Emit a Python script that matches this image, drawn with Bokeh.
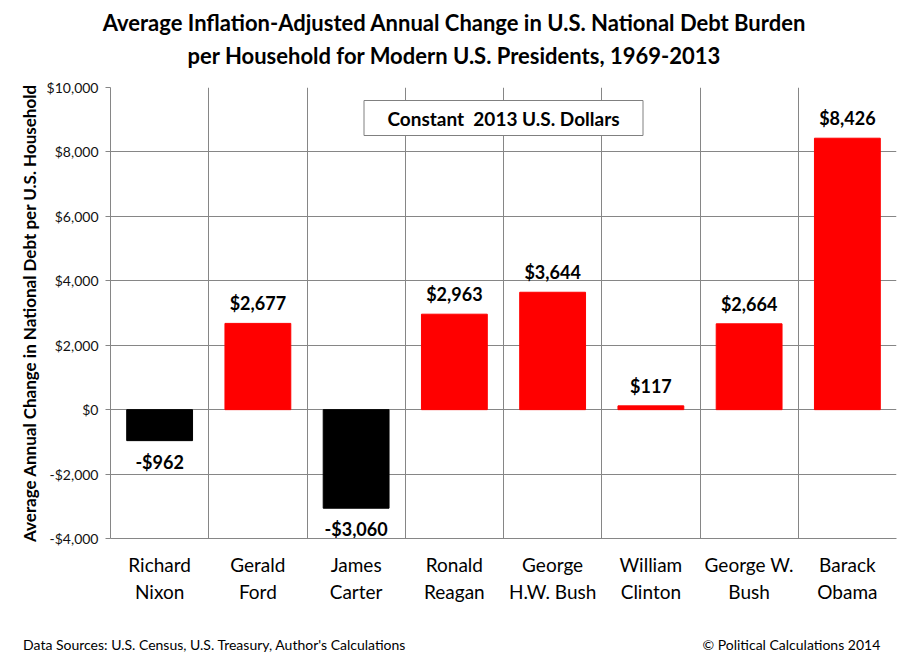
from bokeh.plotting import figure
from bokeh.models import ColumnDataSource, FixedTicker, Range1d, LinearAxis
from bokeh.embed import file_html
from bokeh.resources import INLINE
from bokeh.core.properties import value

presidents = ["Richard\nNixon", "Gerald\nFord", "James\nCarter", "Ronald\nReagan",
              "George\nH.W. Bush", "William\nClinton", "George W.\nBush", "Barack\nObama"]
changes = [-962, 2677, -3060, 2963, 3644, 117, 2664, 8426]
value_labels = ["-$962", "$2,677", "-$3,060", "$2,963", "$3,644", "$117", "$2,664", "$8,426"]
y_ticks = [-4000, -2000, 0, 2000, 4000, 6000, 8000, 10000]
y_tick_labels = ["-$4,000", "-$2,000", "$0", "$2,000", "$4,000", "$6,000", "$8,000", "$10,000"]
title_text = ("Average Inflation-Adjusted Annual Change in U.S. National Debt Burden\n"
              "per Household for Modern U.S. Presidents, 1969-2013")
footer_left = "Data Sources: U.S. Census, U.S. Treasury, Author's Calculations"
footer_right = "© Political Calculations 2014"

FONT = "Lato"
GRID = "#868686"
n = len(presidents)
xc = [i + 0.5 for i in range(n)]
colors = ["#000000" if v < 0 else "#FF0000" for v in changes]

src = ColumnDataSource(dict(x=xc, top=changes, color=colors))

p = figure(width=911, height=662, output_backend="svg", toolbar_location=None,
           x_range=Range1d(0, n), y_range=Range1d(-4000, 10000),
           min_border_left=110, min_border_right=15, min_border_top=87, min_border_bottom=124)
p.outline_line_color = None
p.background_fill_color = "white"

p.vbar(x="x", top="top", bottom=0, width=0.67, color="color", source=src)

pos = ColumnDataSource(dict(x=[x for x, v in zip(xc, changes) if v >= 0],
                            y=[v for v in changes if v >= 0],
                            t=[l for l, v in zip(value_labels, changes) if v >= 0]))
neg = ColumnDataSource(dict(x=[x for x, v in zip(xc, changes) if v < 0],
                            y=[v for v in changes if v < 0],
                            t=[l for l, v in zip(value_labels, changes) if v < 0]))
p.text(x="x", y="y", text="t", source=pos, text_align="center", text_baseline="bottom",
       y_offset=-9, text_font=value(FONT), text_font_style="bold", text_font_size="18px", text_color="black")
p.text(x="x", y="y", text="t", source=neg, text_align="center", text_baseline="top",
       y_offset=10, text_font=value(FONT), text_font_style="bold", text_font_size="18px", text_color="black")

# annotation box
p.rect(x=[4.0], y=[9053], width=279, height=35, width_units="screen", height_units="screen",
       fill_color="white", line_color="#808080", line_width=1)
p.text(x=[4.0], y=[9053], text=["Constant\u00a0 2013 U.S. Dollars"], text_align="center", text_baseline="middle",
       text_font=value(FONT), text_font_style="bold", text_font_size="19px", text_color="black")

# axes
p.xaxis.ticker = FixedTicker(ticks=xc)
p.xaxis.major_label_overrides = {x: name for x, name in zip(xc, presidents)}
p.xaxis.major_tick_line_color = None
p.xaxis.minor_tick_line_color = None
p.xaxis.axis_line_color = GRID
p.xaxis.major_label_standoff = 8
p.xaxis.major_label_text_font = FONT
p.xaxis.major_label_text_font_size = "19px"
p.xaxis.major_label_text_color = "black"

p.yaxis.ticker = FixedTicker(ticks=y_ticks)
p.yaxis.major_label_overrides = {t: l for t, l in zip(y_ticks, y_tick_labels)}
p.yaxis.minor_tick_line_color = None
p.yaxis.major_tick_in = 0
p.yaxis.major_tick_out = 5
p.yaxis.major_tick_line_color = GRID
p.yaxis.axis_line_color = GRID
p.yaxis.major_label_standoff = 7
p.yaxis.major_label_text_font = FONT
p.yaxis.major_label_text_font_size = "14px"
p.yaxis.major_label_text_color = "#111111"
p.yaxis.axis_label = "Average Annual Change in National Debt per U.S. Household"
p.yaxis.axis_label_text_font = FONT
p.yaxis.axis_label_text_font_style = "bold"
p.yaxis.axis_label_text_font_size = "17px"
p.yaxis.axis_label_text_color = "black"
p.yaxis.axis_label_standoff = 4

p.xgrid.ticker = FixedTicker(ticks=list(range(1, n + 1)))
p.xgrid.grid_line_color = GRID
p.ygrid.ticker = FixedTicker(ticks=y_ticks)
p.ygrid.grid_line_color = GRID

# footer as an extra bottom axis with two labels
foot = LinearAxis(ticker=FixedTicker(ticks=[1.06, 6.93]),
                  major_label_overrides={1.06: footer_left, 6.93: footer_right})
foot.axis_line_color = None
foot.major_tick_line_color = None
foot.minor_tick_line_color = None
foot.major_label_standoff = 23
foot.major_label_text_font = FONT
foot.major_label_text_font_size = "14px"
foot.major_label_text_color = "black"
p.add_layout(foot, "below")

# title (two centred lines) as a top axis label
head = LinearAxis(ticker=FixedTicker(ticks=[3.5]), major_label_overrides={3.5: title_text})
head.axis_line_color = None
head.major_tick_line_color = None
head.minor_tick_line_color = None
head.major_label_standoff = 13
head.major_label_text_font = FONT
head.major_label_text_font_style = "bold"
head.major_label_text_font_size = "22px"
head.major_label_text_color = "black"
p.add_layout(head, "above")

open("out.html", "w").write(file_html(p, INLINE))
